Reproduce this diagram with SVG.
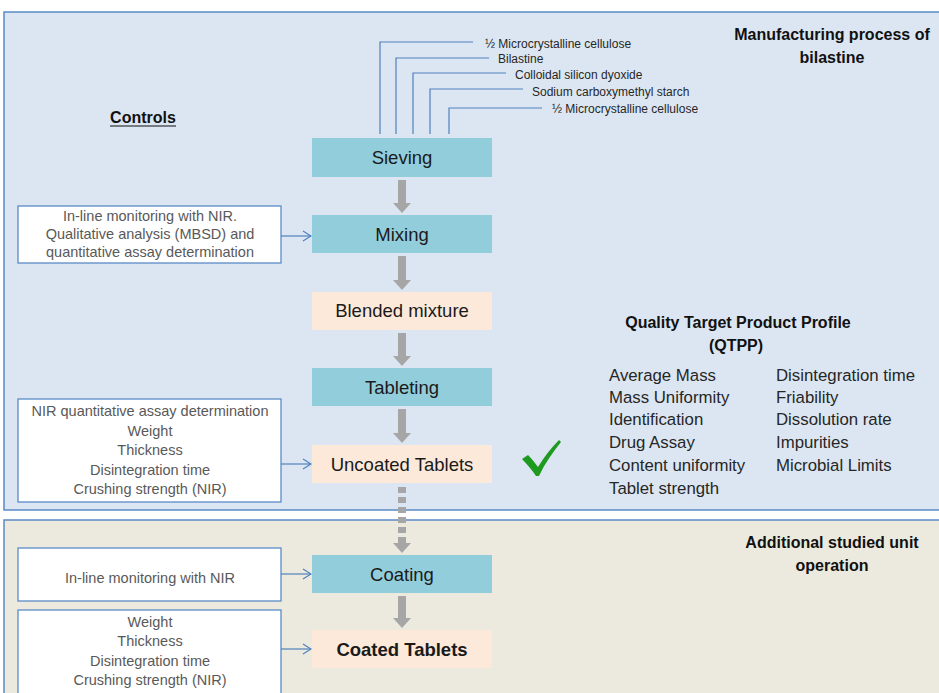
<svg xmlns="http://www.w3.org/2000/svg" width="939" height="693" viewBox="0 0 939 693">
  <style>
    .panel { stroke: #5b8bc6; stroke-width: 1.5; }
    .proc { fill: #92cddc; }
    .prod { fill: #fde9d9; }
    .ctrl { fill: #ffffff; stroke: #5b8bc6; stroke-width: 1.3; }
    .ptext { font-family: "Liberation Sans", Arial, sans-serif; font-size: 18.5px; fill: #1a1a1a; text-anchor: middle; }
    .ctext { font-family: "Liberation Sans", Arial, sans-serif; font-size: 14.5px; fill: #595959; text-anchor: middle; }
    .ing { font-family: "Liberation Sans", Arial, sans-serif; font-size: 12px; fill: #262626; }
    .head { font-family: "Liberation Sans", Arial, sans-serif; font-size: 16px; font-weight: bold; fill: #111111; text-anchor: middle; }
    .list { font-family: "Liberation Sans", Arial, sans-serif; font-size: 16.8px; fill: #262626; }
    .feed { fill: none; stroke: #4f81bd; stroke-width: 1.2; }
    .flow { fill: #a6a6a6; }
    .ctl { fill: none; stroke: #4f81bd; stroke-width: 1.2; }
  </style>
  <defs>
    <marker id="open" markerWidth="10" markerHeight="12" refX="9" refY="6" orient="auto" markerUnits="userSpaceOnUse">
      <polyline points="1,1 9,6 1,11" fill="none" stroke="#4f81bd" stroke-width="1.2"/>
    </marker>
  </defs>

  <!-- background panels -->
  <rect id="panel-process" class="panel" x="4" y="12" width="940" height="498" fill="#dce6f2"/>
  <rect id="panel-additional" class="panel" x="4" y="520" width="940" height="180" fill="#eceadf"/>

  <!-- headings -->
  <g id="title">
    <text class="head" x="832" y="40">Manufacturing process of</text>
    <text class="head" x="832" y="63">bilastine</text>
  </g>
  <g id="controls-heading">
    <text class="head" x="143" y="123">Controls</text>
    <line x1="110" y1="126" x2="176" y2="126" stroke="#111" stroke-width="1.2"/>
  </g>
  <g id="additional-heading">
    <text class="head" x="832" y="548">Additional studied unit</text>
    <text class="head" x="832" y="571">operation</text>
  </g>

  <!-- ingredient feed lines -->
  <g id="ingredients">
    <polyline class="feed" points="380,134 380,42 473,42"/>
    <polyline class="feed" points="396,134 396,58 489,58"/>
    <polyline class="feed" points="413,134 413,73 506,73"/>
    <polyline class="feed" points="430,134 430,89 523,89"/>
    <polyline class="feed" points="449,134 449,108 542,108"/>
    <text class="ing" x="485" y="48">½ Microcrystalline cellulose</text>
    <text class="ing" x="498" y="63">Bilastine</text>
    <text class="ing" x="515" y="79">Colloidal silicon dyoxide</text>
    <text class="ing" x="532" y="96">Sodium carboxymethyl starch</text>
    <text class="ing" x="552" y="113">½ Microcrystalline cellulose</text>
  </g>

  <!-- process steps -->
  <g id="sieving"><rect class="proc" x="312" y="138" width="180" height="39"/><text class="ptext" x="402" y="164">Sieving</text></g>
  <g id="mixing"><rect class="proc" x="312" y="215" width="180" height="38"/><text class="ptext" x="402" y="241">Mixing</text></g>
  <g id="blended-mixture"><rect class="prod" x="312" y="292" width="180" height="38"/><text class="ptext" x="402" y="317">Blended mixture</text></g>
  <g id="tableting"><rect class="proc" x="312" y="368" width="180" height="38"/><text class="ptext" x="402" y="394">Tableting</text></g>
  <g id="uncoated-tablets"><rect class="prod" x="312" y="445" width="180" height="38"/><text class="ptext" x="402" y="471">Uncoated Tablets</text></g>
  <g id="coating"><rect class="proc" x="312" y="555" width="180" height="38"/><text class="ptext" x="402" y="581">Coating</text></g>
  <g id="coated-tablets"><rect class="prod" x="312" y="630" width="180" height="38"/><text class="ptext" x="402" y="656" font-weight="bold">Coated Tablets</text></g>

  <!-- control boxes -->
  <g id="ctrl-mixing">
    <rect class="ctrl" x="18" y="206" width="263" height="57"/>
    <text class="ctext" x="150" y="221">In-line monitoring with NIR.</text>
    <text class="ctext" x="150" y="239">Qualitative analysis (MBSD) and</text>
    <text class="ctext" x="150" y="257">quantitative assay determination</text>
  </g>
  <g id="ctrl-uncoated">
    <rect class="ctrl" x="18" y="399" width="263" height="103"/>
    <text class="ctext" x="150" y="416">NIR quantitative assay determination</text>
    <text class="ctext" x="150" y="436">Weight</text>
    <text class="ctext" x="150" y="455">Thickness</text>
    <text class="ctext" x="150" y="475">Disintegration time</text>
    <text class="ctext" x="150" y="494">Crushing strength (NIR)</text>
  </g>
  <g id="ctrl-coating">
    <rect class="ctrl" x="18" y="548" width="263" height="53"/>
    <text class="ctext" x="150" y="583">In-line monitoring with NIR</text>
  </g>
  <g id="ctrl-coated">
    <rect class="ctrl" x="18" y="610" width="263" height="84"/>
    <text class="ctext" x="150" y="627">Weight</text>
    <text class="ctext" x="150" y="646">Thickness</text>
    <text class="ctext" x="150" y="666">Disintegration time</text>
    <text class="ctext" x="150" y="685">Crushing strength (NIR)</text>
  </g>

  <!-- quality target product profile -->
  <g id="qtpp">
    <text class="head" x="738" y="328" font-size="16.5">Quality Target Product Profile</text>
    <text class="head" x="736" y="351" font-size="16.5">(QTPP)</text>
    <text class="list" x="609" y="381">Average Mass</text>
    <text class="list" x="609" y="403">Mass Uniformity</text>
    <text class="list" x="609" y="425">Identification</text>
    <text class="list" x="609" y="448">Drug Assay</text>
    <text class="list" x="609" y="471">Content uniformity</text>
    <text class="list" x="609" y="494">Tablet strength</text>
    <text class="list" x="776" y="381">Disintegration time</text>
    <text class="list" x="776" y="403">Friability</text>
    <text class="list" x="776" y="425">Dissolution rate</text>
    <text class="list" x="776" y="448">Impurities</text>
    <text class="list" x="776" y="471">Microbial Limits</text>
  </g>

  <!-- check mark -->
  <g id="check">
    <path d="M522,459 L528,455 C532,459 535,463 538,467 C544,457 551,448 559,440 L561,442 C553,452 545,463 539,476 L536,476 C532,470 527,464 522,459 Z" fill="#1e9a1e"/>
  </g>

  <!-- connectors -->
  <g id="connectors">
    <path class="flow" d="M398,180 H406 V203 H411 L402,213 L393,203 H398 Z"/>
    <path class="flow" d="M398,256 H406 V280 H411 L402,290 L393,280 H398 Z"/>
    <path class="flow" d="M398,333 H406 V356 H411 L402,366 L393,356 H398 Z"/>
    <path class="flow" d="M398,409 H406 V433 H411 L402,443 L393,433 H398 Z"/>
    <line x1="402" y1="487" x2="402" y2="543" stroke="#a6a6a6" stroke-width="8" stroke-dasharray="6 4"/>
    <path class="flow" d="M393,543 H411 L402,553 Z"/>
    <path class="flow" d="M398,596 H406 V618 H411 L402,628 L393,618 H398 Z"/>
    <line class="ctl" x1="281" y1="236" x2="311" y2="236" marker-end="url(#open)"/>
    <line class="ctl" x1="281" y1="464" x2="311" y2="464" marker-end="url(#open)"/>
    <line class="ctl" x1="281" y1="574" x2="311" y2="574" marker-end="url(#open)"/>
    <line class="ctl" x1="281" y1="649" x2="311" y2="649" marker-end="url(#open)"/>
  </g>
</svg>
